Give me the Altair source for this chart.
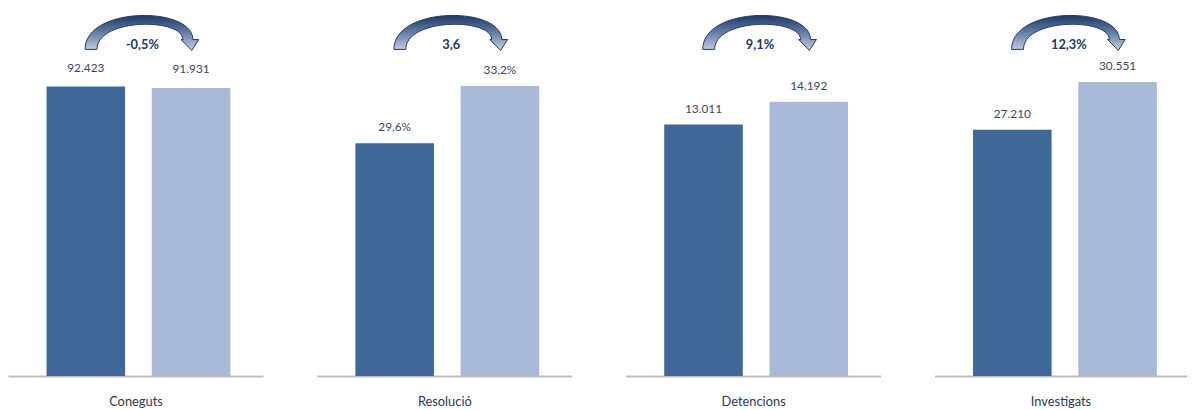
import altair as alt
import pandas as pd

# ---- data ----
categories = ["Coneguts", "Resolució", "Detencions", "Investigats"]
periods = ["Període anterior", "Període actual"]
values_prev = [92423, 29.6, 13011, 27210]
values_curr = [91931, 33.2, 14192, 30551]
labels_prev = ["92.423", "29,6%", "13.011", "27.210"]
labels_curr = ["91.931", "33,2%", "14.192", "30.551"]
change_labels = ["-0,5%", "3,6", "9,1%", "12,3%"]

# ---- layout / style ----
y_domains = [[0, 116713], [15, 37.94], [0, 18916], [10000, 35550]]
WIDTHS = [258, 258, 258, 255]
PAD_INNER = 0.2535
PAD_OUTER = [0.338, 0.338, 0.338, 0.3239]
ALIGNS = [0.5417, 0.5417, 0.5417, 0.5652]
LABEL_GAP = [-19, -16, -16, -16]
HEIGHT = 370
DARK = "#3F6899"
LIGHT = "#A9B9D8"
FONT = "Lato"
ARROW_X = 135
ARROW_Y = 22.5
ARROW_PATH = ("M -57 17 C -57 -27 52 -27 52 7 L 58 7 L 51 18 L 40 7 L 42 7 "
              "C 42 -15 -45 -15 -45 17 Z")
arrow_fill = alt.LinearGradient(
    gradient="linear", x1=0, y1=0, x2=0, y2=1,
    stops=[alt.GradientStop(color="#1F3864", offset=0),
           alt.GradientStop(color="#5B77A2", offset=0.45),
           alt.GradientStop(color="#C6D0E1", offset=1)],
)

panels = []
for i, cat in enumerate(categories):
    df = pd.DataFrame({
        "periode": periods,
        "valor": [values_prev[i], values_curr[i]],
        "etiqueta": [labels_prev[i], labels_curr[i]],
    })
    xs = alt.X(
        "periode:N", sort=periods,
        scale=alt.Scale(paddingInner=PAD_INNER, paddingOuter=PAD_OUTER[i], align=ALIGNS[i]),
        axis=alt.Axis(title=cat, labels=False, ticks=False, grid=False,
                      domainColor="#BFBFBF", domainWidth=2,
                      titleFont=FONT, titleFontSize=13, titleFontWeight="normal",
                      titleColor="#2F3852", titlePadding=20),
    )
    ys = alt.Y("valor:Q", scale=alt.Scale(domain=y_domains[i], nice=False, zero=False), axis=None)
    base = alt.Chart(df)
    bars = base.mark_bar().encode(
        x=xs, y=ys, y2=alt.datum(y_domains[i][0]),
        color=alt.Color("periode:N", scale=alt.Scale(domain=periods, range=[DARK, LIGHT]), legend=None),
    )
    vals = base.mark_text(dy=LABEL_GAP[i], font=FONT, fontSize=12, color="#3B4665",
                          baseline="middle").encode(x=xs, y=ys, text="etiqueta:N")
    adf = pd.DataFrame({"canvi": [change_labels[i]]})
    arrow = alt.Chart(adf).mark_point(
        shape=ARROW_PATH, size=4, filled=True, fill=arrow_fill,
        stroke="#1F3864", strokeWidth=1, opacity=1,
    ).encode(x=alt.value(ARROW_X), y=alt.value(ARROW_Y))
    atext = alt.Chart(adf).mark_text(
        font=FONT, fontSize=13, fontWeight="bold", color="#1F3864", baseline="middle",
    ).encode(x=alt.value(ARROW_X + 1), y=alt.value(35), text="canvi:N")
    panels.append(alt.layer(bars, vals, arrow, atext).properties(width=WIDTHS[i], height=HEIGHT))

chart = alt.hconcat(*panels, spacing=54.5, padding=0).configure_view(stroke=None)
chart.save("out.html", embed_options={"renderer": "svg", "actions": False})
